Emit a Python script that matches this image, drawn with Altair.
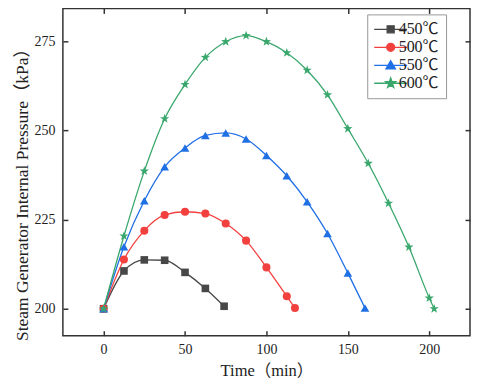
import altair as alt
import pandas as pd

SERIES = ["450℃", "500℃", "550℃", "600℃"]
COLORS = ["#474747", "#f2403e", "#1f6fe5", "#3aa76d"]

t450 = [0, 12.5, 25, 37.5, 50, 62.5, 74]
p450 = [200, 210.6, 213.7, 213.6, 210.2, 205.7, 200.7]
t500 = [0, 12.5, 25, 37.5, 50, 62.5, 75, 87.5, 100, 112.5, 117.5]
p500 = [200, 213.8, 221.9, 226.3, 227.2, 226.7, 223.9, 219.1, 211.6, 203.5, 200.2]
t550 = [0, 12.5, 25, 37.5, 50, 62.5, 75, 87.5, 100, 112.5, 125, 137.5, 150, 160.5]
p550 = [200, 217.4, 230.3, 239.8, 245.1, 248.6, 249.3, 247.6, 243.0, 237.3, 230.0, 221.1, 210.0, 200.2]
t600 = [0, 12.5, 25, 37.5, 50, 62.5, 75, 87.5, 100, 112.5, 125, 137.5, 150, 162.5, 175, 187.5, 200, 203]
p600 = [200, 220.4, 238.6, 253.3, 262.9, 270.5, 274.9, 276.6, 274.9, 271.8, 266.9, 260.0, 250.5, 240.8, 229.6, 217.3, 203.0, 200.0]

X_TICKS = [0, 25, 50, 75, 100, 125, 150, 175, 200]
Y_TICKS = [200, 212.5, 225, 237.5, 250, 262.5, 275]
X_MAJOR = [0, 50, 100, 150, 200]
Y_MAJOR = [200, 225, 250, 275]
X_DOMAIN = [-25, 225]
Y_DOMAIN = [192.44, 284.24]

rows = []
for s, ts, ps in zip(SERIES, [t450, t500, t550, t600], [p450, p500, p550, p600]):
    for t, p in zip(ts, ps):
        rows.append({"series": s, "time": t, "pressure": p})
df = pd.DataFrame(rows)

STAR = ("M0,-1L0.235,-0.324L0.951,-0.309L0.38,0.124L0.588,0.809L0,0.4"
        "L-0.588,0.809L-0.38,0.124L-0.951,-0.309L-0.235,-0.324Z")
SHAPES = ["square", "circle", "triangle-up", STAR]
SIZES = [58, 65, 75, 95]

LINE = "M-3.3,0H3.3"
LEG_SHAPES = [
    LINE + "M-0.7,-0.7H0.7V0.7H-0.7Z",
    LINE + "M-0.8,0A0.8,0.8,0,1,0,0.8,0A0.8,0.8,0,1,0,-0.8,0Z",
    LINE + "M0,-0.9L0.95,0.7L-0.95,0.7Z",
    LINE + "M0,-1.05L0.247,-0.34L1.0,-0.324L0.4,0.13L0.617,0.85L0,0.42L-0.617,0.85L-0.4,0.13L-1.0,-0.324L-0.247,-0.34Z",
]

FONT = "'Liberation Serif', 'Noto Sans CJK SC'"
TICK_COLOR = "#333333"
minor_x = "datum.value % 50 != 0"
minor_y = "datum.value % 25 != 0"

xs = alt.Scale(domain=X_DOMAIN, nice=False, zero=False)
ys = alt.Scale(domain=Y_DOMAIN, nice=False, zero=False)
cscale = alt.Scale(domain=SERIES, range=COLORS)

x_axis = alt.Axis(
    values=X_TICKS, title="Time（min）", offset=-5, tickSize=5, tickWidth=1.5,
    tickColor=TICK_COLOR, domain=False, labelPadding=7,
    tickOpacity={"condition": {"test": minor_x, "value": 0}, "value": 1},
    gridDash={"condition": {"test": minor_x, "value": [1.5, 2]}, "value": []},
    gridColor={"condition": {"test": minor_x, "value": "#c4c4c4"}, "value": "#d6d6d6"},
    gridWidth=1, labelExpr="datum.value % 50 == 0 ? datum.label : ''",
    labelFont=FONT, labelFontSize=14, labelColor="#222222",
    titleFont=FONT, titleFontSize=16.5, titleFontWeight="normal", titleColor="#222222",
    titlePadding=6,
)
y_axis = alt.Axis(
    values=Y_TICKS, title="Steam Generator Internal Pressure（kPa）", offset=-5, tickSize=5,
    tickWidth=1.5, tickColor=TICK_COLOR, domain=False, labelPadding=8,
    tickOpacity={"condition": {"test": minor_y, "value": 0}, "value": 1},
    gridDash={"condition": {"test": minor_y, "value": [1.5, 2]}, "value": []},
    gridColor={"condition": {"test": minor_y, "value": "#c4c4c4"}, "value": "#d6d6d6"},
    gridWidth=1, labelExpr="datum.value % 25 == 0 ? datum.label : ''",
    labelFont=FONT, labelFontSize=14, labelColor="#222222",
    titleFont=FONT, titleFontSize=17.5, titleFontWeight="normal", titleColor="#222222",
    titleX=-45, titleY=182, titleBaseline="middle",
)
x_top = alt.Axis(orient="top", values=X_MAJOR, labels=False, title=None, grid=False,
                 domain=False, offset=-5, tickSize=5, tickWidth=1.5, tickColor=TICK_COLOR)
y_right = alt.Axis(orient="right", values=Y_MAJOR, labels=False, title=None, grid=False,
                   domain=False, offset=-5, tickSize=5, tickWidth=1.5, tickColor=TICK_COLOR)

base = alt.Chart(df)

lines = base.mark_line(interpolate="monotone", strokeWidth=1.3).encode(
    x=alt.X("time:Q", scale=xs, axis=x_axis),
    y=alt.Y("pressure:Q", scale=ys, axis=y_axis),
    color=alt.Color("series:N", scale=cscale),
    detail="series:N",
)

point_layers = []
for i, s in enumerate(SERIES):
    point_layers.append(
        base.transform_filter(alt.datum.series == s)
        .mark_point(filled=True, opacity=1, shape=SHAPES[i], size=SIZES[i])
        .encode(
            x=alt.X("time:Q", scale=xs, axis=x_top if i == 0 else None),
            y=alt.Y("pressure:Q", scale=ys, axis=y_right if i == 0 else None),
            color=alt.Color("series:N", scale=cscale),
        )
    )

leg = alt.Legend(
    orient="none", legendX=305, legendY=6, title=None, padding=7, rowPadding=2,
    symbolSize=100, symbolOffset=8.5, labelOffset=0, symbolStrokeWidth=1.3,
    labelFont=FONT, labelFontSize=16, labelColor="#222222",
    fillColor="white", strokeColor="#999999",
)
legend_layer = base.mark_point(filled=True, opacity=1).encode(
    x=alt.X("time:Q", scale=xs, axis=None),
    y=alt.Y("pressure:Q", scale=ys, axis=None),
    color=alt.Color("series:N", scale=cscale, legend=leg),
    stroke=alt.Stroke("series:N", scale=cscale, legend=leg),
    shape=alt.Shape("series:N", scale=alt.Scale(domain=SERIES, range=LEG_SHAPES), legend=leg),
).transform_filter("false")

chart = alt.layer(legend_layer, lines, *point_layers).resolve_axis(
    x="independent", y="independent"
).properties(
    width=408, height=328,
    autosize=alt.AutoSizeParams(type="none"),
    padding={"left": 55, "top": 0, "right": 2, "bottom": 44},
).configure_view(stroke="#333333", strokeWidth=1.5)

chart.save("out.html", embed_options={"renderer": "svg", "actions": False})
